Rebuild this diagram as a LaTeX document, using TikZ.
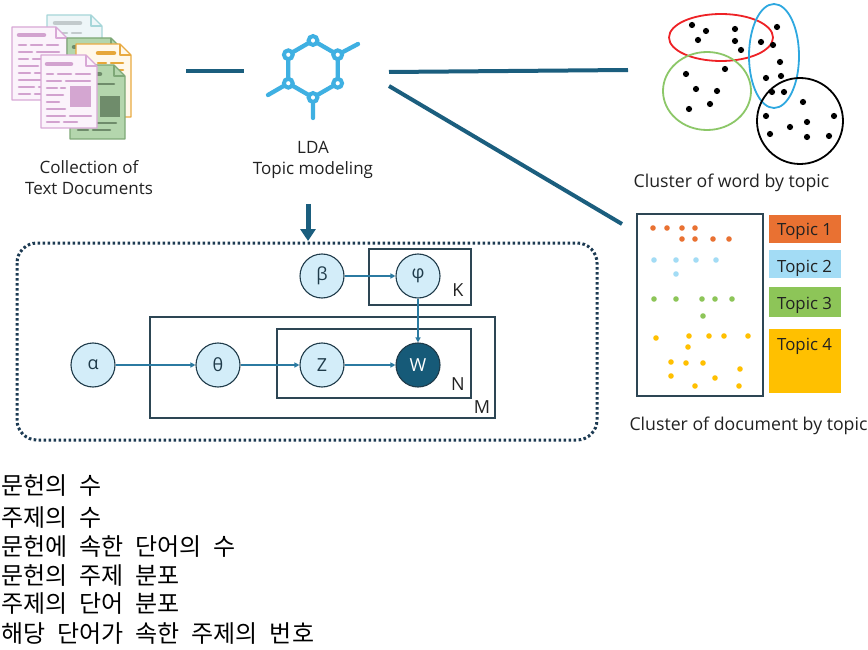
\documentclass[tikz,border=0pt]{standalone}
\usepackage{fontspec}
\setmainfont{Open Sans}
\newfontfamily\krfont{Noto Sans CJK KR}
\newcommand\krsetup{\fontsize{24}{28}\selectfont\krfont\spaceskip=12pt\relax}
\usetikzlibrary{arrows.meta,shapes.geometric}
\definecolor{conn}{HTML}{1B5E7E}
\definecolor{arrowblue}{HTML}{2B7AA1}
\definecolor{nodefill}{HTML}{D3EDF9}
\definecolor{nodeline}{HTML}{1F3B4A}
\definecolor{wfill}{HTML}{165A78}
\definecolor{plate}{HTML}{2D4654}
\definecolor{dotbox}{HTML}{1C3A52}
\definecolor{ldablue}{HTML}{3FB0E2}
\definecolor{tone}{HTML}{E97132}
\definecolor{ttwo}{HTML}{A3DCF5}
\definecolor{tthree}{HTML}{8DC558}
\definecolor{tfour}{HTML}{FFC000}
\definecolor{ellred}{HTML}{EE2226}
\definecolor{ellgreen}{HTML}{8CC768}
\definecolor{ellblue}{HTML}{2EA8E0}
\definecolor{txt}{HTML}{222222}
% document page colours
\definecolor{pinkline}{HTML}{D8A8D6}
\definecolor{pinkfill}{HTML}{FBF3FB}
\definecolor{pinkbar}{HTML}{D2A2CF}
\definecolor{pinkblock}{HTML}{D4A6D1}
\definecolor{lbline}{HTML}{A6D6D9}
\definecolor{lbfill}{HTML}{EEF6F8}
\definecolor{lbbar}{HTML}{C2CACC}
\definecolor{grline}{HTML}{7EA877}
\definecolor{grfill}{HTML}{B4D6AD}
\definecolor{grbar}{HTML}{6F8C6B}
\definecolor{orline}{HTML}{E8AA42}
\definecolor{orfill}{HTML}{FFF8EA}
\definecolor{orbar}{HTML}{E6A73A}
\newcommand\pageshape[4]{%
  \filldraw[draw=#3,fill=#4,line width=1.1,line join=round] (0,0) -- (#1-11,0) -- (#1,11) -- (#1,#2) -- (0,#2) -- cycle;
  \draw[draw=#3,line width=1.1,line join=round] (#1-11,0) -- (#1-11,11) -- (#1,11);}
\tikzset{
  x=1pt,y=-1pt,
  bar/.style={line width=2.6,line cap=round},
  hbar/.style={line width=4.5,line cap=round},
  conline/.style={conn,line width=4},
  gnode/.style={circle,draw=nodeline,fill=nodefill,line width=1.1,minimum size=44,inner sep=0,font=\fontsize{18}{20}\selectfont,text=nodeline},
  onode/.style={gnode,fill=wfill,text=white},
  gedge/.style={arrowblue,line width=1.2,-{Triangle[width=5,length=5]}},
  platebox/.style={draw=plate,line width=1.3},
  platelabel/.style={font=\fontsize{18}{20}\selectfont,text=txt,inner sep=0},
  lbl/.style={font=\fontsize{17}{21.5}\selectfont,text=txt,align=center,inner sep=0},
  clbl/.style={font=\fontsize{17.7}{21}\selectfont,text=txt,inner sep=0},
  topiclbl/.style={font=\fontsize{16.8}{20}\selectfont,text=txt,anchor=base west,inner sep=0},
  krline/.style={font=\krsetup,anchor=base west,inner sep=0,text=black},
}
\begin{document}
\begin{tikzpicture}
\useasboundingbox (0,0) rectangle (868,650);
\fill[white] (0,0) rectangle (868,650);

%----------------- document icons
% light blue page (back)
\begin{scope}[shift={(47,15)}]
  \pageshape{55}{62}{lbline}{lbfill}
  \draw[lbbar,hbar] (8,8) -- (33,8);
  \draw[lbbar,bar] (8,18) -- (20,18) (25,18) -- (34,18);
  \draw[lbbar,bar] (8,25) -- (28,25) (33,25) -- (46,25);
\end{scope}
% pink back page
\begin{scope}[shift={(12,27)}]
  \pageshape{55}{73}{pinkline}{pinkfill}
  \draw[pinkbar,hbar] (7,8) -- (32,8);
  \draw[pinkbar,bar] (7,18) -- (14,18) (19,18) -- (30,18) (35,18) -- (46,18);
  \draw[pinkbar,bar] (7,25) -- (20,25) (25,25) -- (47,25);
  \draw[pinkbar,bar] (7,32) -- (16,32) (21,32) -- (38,32);
  \draw[pinkbar,bar] (7,39) -- (26,39) (31,39) -- (47,39);
  \draw[pinkbar,bar] (7,46) -- (18,46) (23,46) -- (40,46);
  \draw[pinkbar,bar] (7,53) -- (30,53);
  \draw[pinkbar,bar] (7,60) -- (22,60) (27,60) -- (46,60);
  \draw[pinkbar,bar] (7,67) -- (18,67) (23,67) -- (36,67);
\end{scope}
% green middle page
\begin{scope}[shift={(67,38)}]
  \pageshape{55}{70}{grline}{grfill}
  \draw[grbar,hbar] (7,9) -- (30,9);
  \draw[grbar,bar] (7,19) -- (16,19) (21,19) -- (40,19);
\end{scope}
% orange page
\begin{scope}[shift={(76,44)}]
  \pageshape{55}{73}{orline}{orfill}
  \draw[orbar,hbar] (22,9) -- (38,9);
  \draw[orbar,bar] (22,19) -- (30,19) (35,19) -- (47,19);
  \draw[orbar,bar] (22,26) -- (47,26);
\end{scope}
% green front page
\begin{scope}[shift={(70,65)}]
  \pageshape{55}{74}{grline}{grfill}
  \draw[grbar,hbar] (8,9) -- (30,9);
  \draw[grbar,bar] (8,19) -- (16,19) (21,19) -- (44,19);
  \draw[grbar,bar] (8,26) -- (26,26);
  \fill[grbar] (30,31) rectangle (50,52);
  \draw[grbar,bar] (8,58) -- (22,58) (27,58) -- (46,58);
  \draw[grbar,bar] (8,65) -- (18,65) (23,65) -- (40,65);
\end{scope}
% pink front page
\begin{scope}[shift={(41,55)}]
  \pageshape{56}{73}{pinkline}{pinkfill}
  \draw[pinkbar,hbar] (6,9) -- (30,9);
  \draw[pinkbar,bar] (6,19) -- (12,19) (17,19) -- (30,19) (35,19) -- (49,19);
  \draw[pinkbar,bar] (6,26) -- (20,26) (25,26) -- (49,26);
  \draw[pinkbar,bar] (6,33) -- (16,33) (20,33) -- (24,33);
  \draw[pinkbar,bar] (6,40) -- (22,40);
  \draw[pinkbar,bar] (6,47) -- (18,47);
  \draw[pinkbar,bar] (6,54) -- (24,54);
  \fill[pinkblock] (29,31) rectangle (50,52);
  \draw[pinkbar,bar] (6,61) -- (24,61) (29,61) -- (50,61);
  \draw[pinkbar,bar] (6,67) -- (18,67) (23,67) -- (36,67);
\end{scope}
\coordinate (docsE) at (186,71);
\node[lbl,anchor=base] (doctxt) at (89,195) {Collection of\\Text Documents};

%----------------- LDA icon
\foreach \i/\a in {1/90,2/30,3/-30,4/-90,5/-150,6/150}
  \coordinate (v\i) at ({313+28.5*cos(\a)},{69-28.5*sin(\a)});
\coordinate (stubA) at (358,44);
\coordinate (stubB) at (268,95);
\coordinate (stubC) at (313,118);
\draw[ldablue,line width=4.3,line join=round] (v1) -- (v2) -- (v3) -- (v4) -- (v5) -- (v6) -- cycle;
\draw[ldablue,line width=4.3,line cap=round] (v2) -- (stubA) (v5) -- (stubB) (v4) -- (stubC);
\foreach \i in {1,...,6}
  \filldraw[fill=white,draw=ldablue,line width=4] (v\i) circle (4.4);
\coordinate (ldaW) at (244,71);
\coordinate (ldaE1) at (389,72);
\coordinate (ldaE2) at (389,86);
\node[lbl,anchor=base] (ldatxt) at (313,175) {LDA\\Topic modeling};

%----------------- top connectors
\coordinate (wordW) at (628,70);
\coordinate (docW) at (622,224);
\draw[conline] (docsE) -- (ldaW);
\draw[conline] (ldaE1) -- (wordW);
\draw[conline] (ldaE2) -- (docW);

%----------------- big down arrow
\coordinate (arrS) at (308,204);
\coordinate (arrE) at (308,241);
\draw[conn,line width=5,-{Triangle[width=15,length=12]}] (arrS) -- (arrE);

%----------------- dotted box
\draw[dotbox,line width=3,dash pattern=on 2.6 off 2.4,rounded corners=20] (17,243) rectangle (597,440);

% plates
\draw[platebox] (369,249) rectangle (471,305);
\draw[platebox] (150,317) rectangle (495,418);
\draw[platebox] (277,329) rectangle (471,398);
\node[platelabel] (Klbl) at (458,290) {K};
\node[platelabel] (Nlbl) at (458,384) {N};
\node[platelabel] (Mlbl) at (482,407) {M};

% graph nodes
\node[gnode] (beta) at (322,276) {β};
\node[gnode] (phi) at (418,276) {φ};
\node[gnode] (alpha) at (93,365) {α};
\node[gnode] (theta) at (218,365) {θ};
\node[gnode] (z) at (322,365) {Z};
\node[onode] (w) at (418,365) {W};
\draw[gedge] (beta) -- (phi);
\draw[gedge] (phi) -- (w);
\draw[gedge] (alpha) -- (theta);
\draw[gedge] (theta) -- (z);
\draw[gedge] (z) -- (w);

%----------------- cluster of word by topic
\draw[ellred,line width=1.8] (721,37.5) ellipse [x radius=52,y radius=23.5];
\draw[ellgreen,line width=1.8] (707,91) ellipse [x radius=44,y radius=39];
\draw[ellblue,line width=1.8] (774,56) ellipse [x radius=25,y radius=52];
\draw[black,line width=1.8] (800,121) circle (43);
\foreach \p in {(692,25),(706,31),(698,40),(735,29),(735,41),(741,50),(761,42),(773,45),(777,27),(780,62),(766,78),(781,76),(772,92),(784,92),(686,74),(725,69),(696,89),(717,91),(710,104),(689,109),(803,102),(766,116),(807,122),(834,116),(790,127),(770,134),(807,137),(829,136)}
  \fill[black] \p circle (3.1);
\node[clbl,anchor=base] (wordtxt) at (731.5,188) {Cluster of word by topic};

%----------------- cluster of document by topic
\draw[plate,line width=1.5] (637,214) rectangle (763,396);
\foreach \p in {(653,228),(667,228),(682,228),(695,228),(682,239),(695,239),(713,239),(729,239)}
  \fill[tone] \p circle (2.8);
\foreach \p in {(654,260),(676,260),(696,260),(716,260),(676,274)}
  \fill[ttwo] \p circle (2.8);
\foreach \p in {(654,299),(676,299),(702,299),(715,299),(732,299),(703,316)}
  \fill[tthree] \p circle (2.8);
\foreach \p in {(656,338),(689,336),(709,336),(724,336),(748,336),(688,347),(671,362),(686,363),(703,363),(740,369),(671,376),(715,378),(695,386),(739,386)}
  \fill[tfour] \p circle (2.8);
\fill[tone] (769,215) rectangle (841,243);
\fill[ttwo] (769,250) rectangle (841,278);
\fill[tthree] (769,287) rectangle (841,317);
\fill[tfour] (769,329) rectangle (841,393);
\node[topiclbl] (tp1) at (777,236) {Topic 1};
\node[topiclbl] (tp2) at (777,272) {Topic 2};
\node[topiclbl] (tp3) at (777,309) {Topic 3};
\node[topiclbl] (tp4) at (777,350) {Topic 4};
\node[clbl,anchor=base] (doctopictxt) at (748.5,430) {Cluster of document by topic};

%----------------- Korean legend
\node[krline] (k1) at (1,494) {문헌의 수};
\node[krline] (k2) at (1,526) {주제의 수};
\node[krline] (k3) at (1,555) {문헌에 속한 단어의 수};
\node[krline] (k4) at (1,584) {문헌의 주제 분포};
\node[krline] (k5) at (1,612) {주제의 단어 분포};
\node[krline] (k6) at (1,642) {해당 단어가 속한 주제의 번호};
\end{tikzpicture}
\end{document}
